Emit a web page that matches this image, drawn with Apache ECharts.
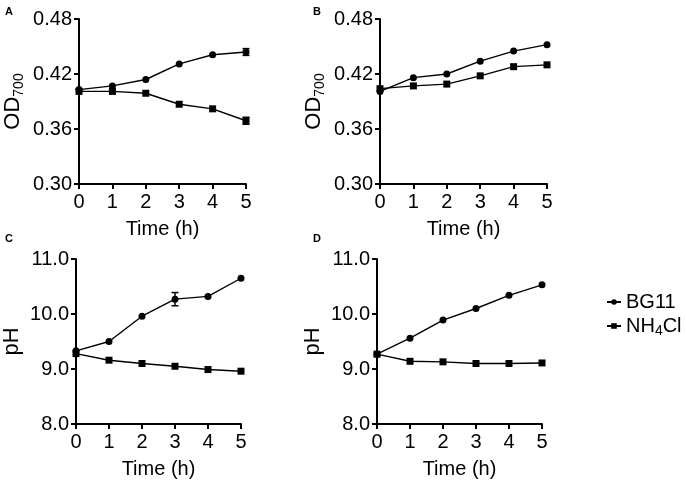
<!DOCTYPE html>
<html><head><meta charset="utf-8">
<script src="https://cdn.jsdelivr.net/npm/echarts@6/dist/echarts.min.js"></script>
<style>html,body{margin:0;padding:0;background:#fff}#c{width:686px;height:485px}</style>
</head><body><div id="c"></div>
<script>
const hours = [0, 1, 2, 3, 4, 5];
const xTicks = ['0', '1', '2', '3', '4', '5'];
const odTicks = ['0.30', '0.36', '0.42', '0.48'];
const phTicks = ['8.0', '9.0', '10.0', '11.0'];
const seriesNames = ['BG11', 'NH4Cl'];
const panelLabels = ['A', 'B', 'C', 'D'];

const odA_BG11 = [0.403, 0.407, 0.414, 0.431, 0.441, 0.444];
const odA_BG11_err = [0, 0, 0, 0, 0, 0.0037];
const odA_NH4Cl = [0.401, 0.401, 0.399, 0.387, 0.382, 0.369];
const odA_NH4Cl_err = [0, 0, 0, 0, 0, 0.0038];
const odB_BG11 = [0.401, 0.416, 0.420, 0.434, 0.445, 0.452];
const odB_NH4Cl = [0.404, 0.407, 0.409, 0.418, 0.428, 0.430];
const phC_BG11 = [9.33, 9.50, 9.96, 10.27, 10.32, 10.65];
const phC_BG11_err = [0, 0, 0, 0.12, 0, 0];
const phC_NH4Cl = [9.28, 9.16, 9.10, 9.05, 8.99, 8.96];
const phD_BG11 = [9.27, 9.56, 9.89, 10.10, 10.34, 10.53];
const phD_NH4Cl = [9.27, 9.14, 9.13, 9.10, 9.10, 9.11];

const FONT = 'Liberation Sans, Arial, sans-serif';
const grids = [
  {left: 79, top: 19, width: 167, height: 165},
  {left: 380, top: 19, width: 167, height: 165},
  {left: 76, top: 259, width: 165, height: 165},
  {left: 377, top: 259, width: 165, height: 165}
];
const axisLine = {show: true, lineStyle: {color: '#000', width: 2}};
const axisTick = {show: true, inside: false, length: 5, lineStyle: {color: '#000', width: 2}};

function xAxis(i) {
  return {gridIndex: i, type: 'value', min: 0, max: 5, interval: 1,
    axisLine, axisTick, splitLine: {show: false},
    axisLabel: {color: '#000', fontSize: 20, fontFamily: FONT, margin: 8,
      formatter: v => xTicks[hours.indexOf(v)]},
    name: 'Time (h)', nameLocation: 'middle', nameGap: 35,
    nameTextStyle: {color: '#000', fontSize: 20, fontFamily: FONT}};
}
function yAxis(i, isOD) {
  const ticks = isOD ? odTicks : phTicks;
  return {gridIndex: i, type: 'value',
    min: isOD ? 0.30 : 8, max: isOD ? 0.48 : 11, interval: isOD ? 0.06 : 1,
    axisLine, axisTick, splitLine: {show: false},
    axisLabel: {color: '#000', fontSize: 20, fontFamily: FONT, margin: 7,
      formatter: v => { const k = Math.round(isOD ? (v - 0.30) / 0.06 : v - 8); return ticks[k]; }},
    name: isOD ? 'OD{sub|700}' : 'pH', nameLocation: 'middle', nameRotate: 90,
    nameGap: isOD ? 53 : 51,
    nameTextStyle: {color: '#000', fontSize: 22, fontFamily: FONT, lineHeight: 26,
      rich: {sub: {fontSize: 14, fontFamily: FONT, color: '#000', verticalAlign: 'bottom', lineHeight: 14}}}};
}
function line(i, name, vals) {
  return {type: 'line', name, xAxisIndex: i, yAxisIndex: i,
    data: vals.map((v, k) => [hours[k], v]),
    symbol: name === 'BG11' ? 'circle' : 'rect',
    symbolSize: 7,
    showSymbol: true, animation: false,
    lineStyle: {color: '#000', width: 1.4}, itemStyle: {color: '#000'}};
}
function errs(i, vals, err) {
  const data = [];
  vals.forEach((v, k) => { if (err[k] > 0) data.push([hours[k], v, err[k]]); });
  return {type: 'custom', name: 'err', xAxisIndex: i, yAxisIndex: i, animation: false,
    data, z: 3,
    renderItem: (params, api) => {
      const x = api.value(0), y = api.value(1), e = api.value(2);
      const p1 = api.coord([x, y - e]), p2 = api.coord([x, y + e]);
      const w = 3.5;
      return {type: 'group', children: [
        {type: 'line', shape: {x1: p1[0], y1: p1[1], x2: p2[0], y2: p2[1]}, style: {stroke: '#000', lineWidth: 1.5}},
        {type: 'line', shape: {x1: p1[0] - w, y1: p1[1], x2: p1[0] + w, y2: p1[1]}, style: {stroke: '#000', lineWidth: 1.5}},
        {type: 'line', shape: {x1: p2[0] - w, y1: p2[1], x2: p2[0] + w, y2: p2[1]}, style: {stroke: '#000', lineWidth: 1.5}}
      ]};
    }};
}

const labelPos = [[5, 6], [313, 6], [5, 233], [313, 233]];
const chart = echarts.init(document.getElementById('c'), null, {renderer: 'canvas'});
chart.setOption({
  backgroundColor: '#fff',
  animation: false,
  grid: grids.map(g => Object.assign({outerBoundsMode: 'none', containLabel: false}, g)),
  xAxis: [0, 1, 2, 3].map(xAxis),
  yAxis: [yAxis(0, true), yAxis(1, true), yAxis(2, false), yAxis(3, false)],
  legend: {
    data: seriesNames, orient: 'vertical', left: 601, top: 285, itemGap: 0,
    itemWidth: 14, itemHeight: 7, selectedMode: false,
    formatter: n => n === 'NH4Cl' ? 'NH{sub|4}Cl' : n,
    textStyle: {color: '#000', fontSize: 20, fontFamily: FONT, lineHeight: 24,
      rich: {sub: {fontSize: 14, fontFamily: FONT, color: '#000', verticalAlign: 'bottom', lineHeight: 14}}}
  },
  graphic: panelLabels.map((t, i) => ({type: 'text', left: labelPos[i][0], top: labelPos[i][1],
    style: {text: t, font: 'bold 11px ' + FONT, fill: '#000'}})),
  series: [
    line(0, 'BG11', odA_BG11), line(0, 'NH4Cl', odA_NH4Cl),
    errs(0, odA_BG11, odA_BG11_err), errs(0, odA_NH4Cl, odA_NH4Cl_err),
    line(1, 'BG11', odB_BG11), line(1, 'NH4Cl', odB_NH4Cl),
    line(2, 'BG11', phC_BG11), line(2, 'NH4Cl', phC_NH4Cl),
    errs(2, phC_BG11, phC_BG11_err),
    line(3, 'BG11', phD_BG11), line(3, 'NH4Cl', phD_NH4Cl)
  ]
});
</script></body></html>
